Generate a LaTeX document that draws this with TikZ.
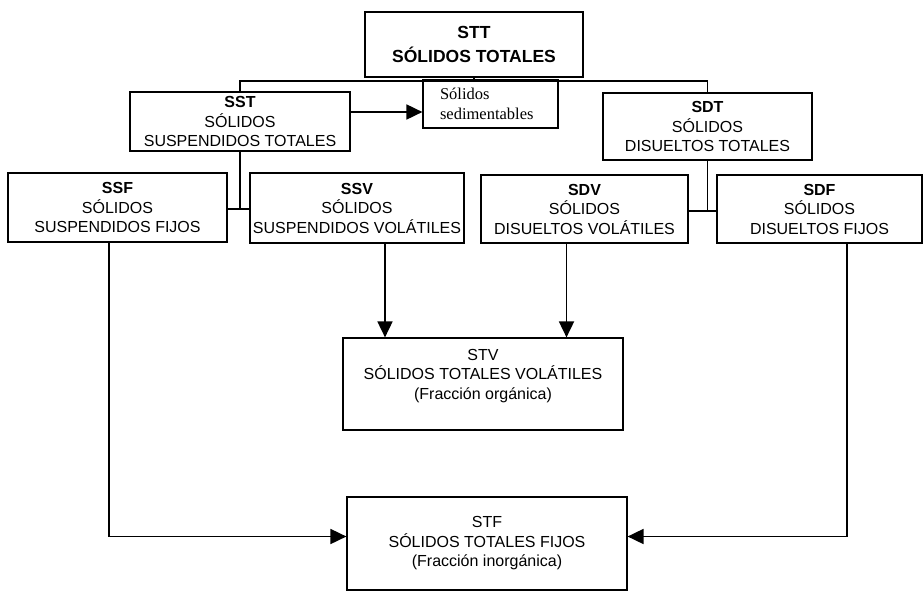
\documentclass[tikz,border=0pt]{standalone}
\usepackage{fontspec}
\setmainfont{Liberation Sans}
\newfontfamily\sedfont{Liberation Serif}
\usetikzlibrary{arrows.meta,calc,positioning}
\tikzset{
	box/.style={draw,line width=1.2pt,align=center,inner sep=0pt,font=\fontsize{16}{19.5}\selectfont},
	link/.style={line width=1.8pt},
	arr/.style={line width=1.8pt,-{Triangle[length=16pt,width=15pt]}},
}

\begin{document}
\begin{tikzpicture}[x=1pt,y=-1pt]
	\useasboundingbox (0,0) rectangle (923,591);
	% top level
	\node (STT) at (474,44.5) [box,line width=2.5pt,minimum width=218pt,minimum height=65pt,font=\fontsize{17.5}{24}\selectfont\bfseries] {STT\\SÓLIDOS TOTALES};
	\node (sed) at (490.5,104) [box,minimum height=48pt,text width=101pt,inner xsep=17pt,align=left,font=\sedfont\fontsize{16.5}{20}\selectfont] {Sólidos\\sedimentables\\[-8pt]{}};
	\node (SST) at (240,121.5) [box,minimum width=220pt,minimum height=59pt] {\textbf{SST}\\SÓLIDOS\\SUSPENDIDOS TOTALES};
	\node (SDT) at (707.5,126.5) [box,minimum width=209pt,minimum height=67pt] {\textbf{SDT}\\SÓLIDOS\\DISUELTOS TOTALES};
	% second level
	\node (SSF) at (117.5,207.5) [box,minimum width=219pt,minimum height=69pt] {\textbf{SSF}\\SÓLIDOS\\SUSPENDIDOS FIJOS};
	\node (SSV) at (357,208) [box,minimum width=214pt,minimum height=70pt] {\textbf{SSV}\\SÓLIDOS\\SUSPENDIDOS VOLÁTILES};
	\node (SDV) at (584.5,209) [box,minimum width=207pt,minimum height=68pt] {\textbf{SDV}\\SÓLIDOS\\DISUELTOS VOLÁTILES};
	\node (SDF) at (819.5,209) [box,minimum width=205pt,minimum height=68pt] {\textbf{SDF}\\SÓLIDOS\\DISUELTOS FIJOS};
	% totals
	\node (STV) at (483,384) [box,minimum width=280pt,minimum height=92pt] {STV\\SÓLIDOS TOTALES VOLÁTILES\\(Fracción orgánica)\\{}};
	\node (STF) at (487,543.5) [box,minimum width=280pt,minimum height=93pt] {STF\\SÓLIDOS TOTALES FIJOS\\(Fracción inorgánica)};

	\coordinate (bus) at ($(STT.south)+(0,3)$);
	\coordinate (sj) at ($(SST.south)+(0,57)$);
	\coordinate (dj) at ($(SDT.south)+(0,50)$);
	\coordinate (sarr) at ($(SST.east)+(0,-9.5)$);
	\coordinate (ssfout) at ($(SSF.south)+(-8.5,0)$);
	\coordinate (ssvout) at ($(SSV.south)+(28,0)$);
	\coordinate (sdvout) at ($(SDV.south)+(-18,0)$);
	\coordinate (sdfout) at ($(SDF.south)+(27.5,0)$);

	\draw[link] (STT.south) -- (bus);
	\draw[link] (bus) -| (SST.north);
	\draw[link] (bus) -| (SDT.north);
	\draw[arr] (sarr) -- (sarr -| sed.west);
	\draw[link] (SST.south) -- (sj);
	\draw[link] (SSF.east |- sj) -- (SSV.west |- sj);
	\draw[link] (SDT.south) -- (dj);
	\draw[link] (SDV.east |- dj) -- (SDF.west |- dj);

	\draw[arr] (ssvout) -- (ssvout |- STV.north);
	\draw[arr] (sdvout) -- (sdvout |- STV.north);
	\draw[arr] (ssfout) |- ($(STF.west)+(0,-7)$);
	\draw[arr] (sdfout) |- ($(STF.east)+(0,-7)$);
\end{tikzpicture}
\end{document}
